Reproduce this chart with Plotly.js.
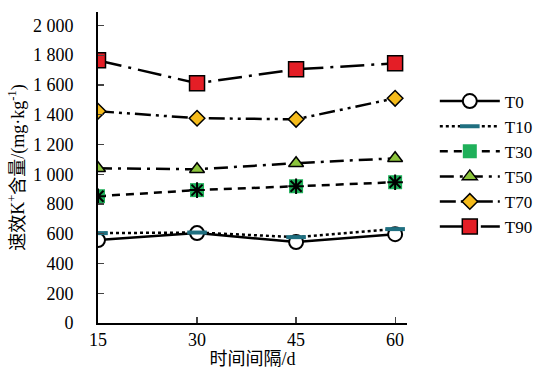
<!DOCTYPE html>
<html><head><meta charset="utf-8">
<script src="https://cdn.plot.ly/plotly-3.0.1.min.js"></script>
<style>body{margin:0;background:#fff}#c{width:542px;height:369px}</style>
</head><body><div id="c"></div>
<script>
const days = [15, 30, 45, 60];
const T0  = [557, 604, 544, 597];
const T10 = [604, 608, 577, 631];
const T30 = [852, 893, 919, 946];
const T50 = [1040, 1033, 1074, 1107];
const T70 = [1423, 1376, 1369, 1510];
const T90 = [1765, 1611, 1705, 1745];
const yTickVals = [0,200,400,600,800,1000,1200,1400,1600,1800,2000];
const yTickText = ['0','200','400','600','800','1 000','1 200','1 400','1 600','1 800','2 000'];
const xTickVals = [15,30,45,60];

const LW = 2.5;
const traces = [
  {x:days,y:T0,name:'T0',mode:'lines+markers',line:{color:'#000',width:LW,dash:'solid'},
   marker:{symbol:'circle',size:14,color:'#fff',line:{color:'#000',width:2}}},
  {x:days,y:T10,name:'T10',mode:'lines+markers',line:{color:'#000',width:LW,dash:'dot'},
   marker:{symbol:'line-ew',size:14,color:'#1f7a8a',line:{color:'#1f6f80',width:4}}},
  {x:days,y:T30,name:'T30',legendgroup:'t30',mode:'lines+markers',line:{color:'#000',width:LW,dash:'8px,6px'},
   marker:{symbol:'square',size:14,color:'#1fb05a',line:{color:'#1fb05a',width:0}}},
  {x:days,y:T30,name:'T30',legendgroup:'t30',showlegend:false,mode:'markers',hoverinfo:'skip',
   marker:{symbol:'asterisk-open',size:13,color:'#000',line:{color:'#000',width:2}}},
  {x:days,y:T50,name:'T50',mode:'lines+markers',line:{color:'#000',width:LW,dash:'14px,6px,3px,6px'},
   marker:{symbol:'triangle-up',size:13,color:'#8cc43c',line:{color:'#000',width:1.5}}},
  {x:days,y:T70,name:'T70',mode:'lines+markers',line:{color:'#000',width:LW,dash:'16px,5px,3px,5px,3px,5px'},
   marker:{symbol:'diamond',size:12,color:'#f5bb1b',line:{color:'#000',width:1.5}}},
  {x:days,y:T90,name:'T90',mode:'lines+markers',line:{color:'#000',width:LW,dash:'24px,7px,3px,7px'},
   marker:{symbol:'square',size:15,color:'#e41e26',line:{color:'#000',width:1.5}}}
];

const fam = "'Times New Roman', 'Liberation Serif', 'Noto Sans CJK SC', serif";
const layout = {
  width:542, height:369,
  margin:{l:98, r:135, t:12, b:46, autoexpand:false},
  paper_bgcolor:'#fff', plot_bgcolor:'#fff',
  font:{family:fam, size:16, color:'#000'},
  showlegend:true,
  legend:{x:1.09, y:0.77, xanchor:'left', yanchor:'top', bgcolor:'rgba(0,0,0,0)',
          font:{family:fam,size:17,color:'#000'}, tracegroupgap:0, itemwidth:60},
  xaxis:{range:[15,61.8], tickvals:xTickVals, ticks:'inside', ticklen:6, tickwidth:1.2,
         showline:true, linecolor:'#000', linewidth:1.8, showgrid:false, zeroline:false,
         tickfont:{family:fam,size:18}, title:{text:'时间间隔/d', standoff:14, font:{family:fam,size:18}}},
  yaxis:{range:[0,2090], tickvals:yTickVals, ticktext:yTickText, ticks:'inside', ticklen:6, tickwidth:1.2,
         ticklabelstandoff:19,
         showline:true, linecolor:'#000', linewidth:1.8, showgrid:false, zeroline:false,
         tickfont:{family:fam,size:18}, title:{text:'速效K<sup>+</sup>含量/(mg·kg<sup>-1</sup>)', standoff:4, font:{family:fam,size:18}}}
};
Plotly.newPlot('c', traces, layout, {displayModeBar:false, staticPlot:true});
</script></body></html>
